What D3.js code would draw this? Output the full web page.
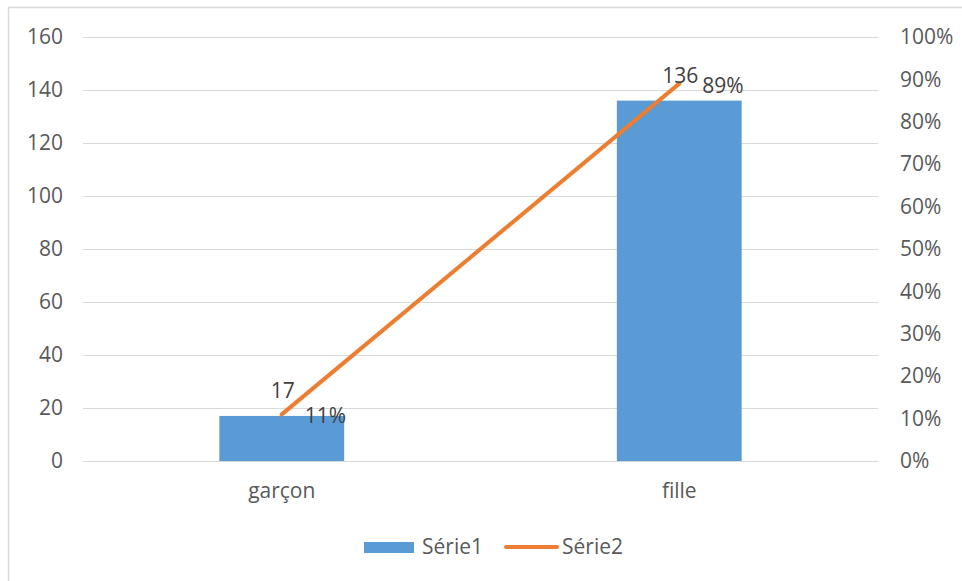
<!DOCTYPE html>
<html><head><meta charset="utf-8">
<script src="https://cdn.jsdelivr.net/npm/d3@7"></script>
<style>body{margin:0;background:#fff;} text{font-family:"Open Sans","Noto Sans",sans-serif;}</style>
</head><body><svg id="c" width="962" height="581"></svg>
<script>
const categories = ["garçon", "fille"];
const serie1 = [17, 136];
const serie2 = [0.11, 0.89];
const leftTicks = [0, 20, 40, 60, 80, 100, 120, 140, 160];
const rightTicks = [0, 0.1, 0.2, 0.3, 0.4, 0.5, 0.6, 0.7, 0.8, 0.9, 1.0];
const seriesNames = ["Série1", "Série2"];

const svg = d3.select("#c");
const W = 962, H = 581;
const m = {l: 83, r: 84, t: 37, b: 120};
const txt = "#595959", fs = 21;

svg.append("rect").attr("x", 8.5).attr("y", 7.5).attr("width", 970).attr("height", 590)
  .attr("fill", "#fff").attr("stroke", "#d9d9d9").attr("stroke-width", 1.5);

const x = d3.scaleBand().domain(categories).range([m.l, W - m.r]);
const y = d3.scaleLinear().domain([0, 160]).range([H - m.b, m.t]);
const y2 = d3.scaleLinear().domain([0, 1]).range([H - m.b, m.t]);

// gridlines
svg.append("g").selectAll("line").data(leftTicks).join("line")
  .attr("x1", m.l).attr("x2", W - m.r)
  .attr("y1", d => Math.round(y(d)) + 0.5).attr("y2", d => Math.round(y(d)) + 0.5)
  .attr("stroke", "#d9d9d9").attr("stroke-width", 1);

// left axis
const la = svg.append("g").attr("transform", `translate(${m.l},0)`)
  .call(d3.axisLeft(y).tickValues(leftTicks).tickSize(0).tickPadding(20));
la.select(".domain").remove();
la.selectAll("text").attr("fill", txt).style("font-size", fs + "px").attr("font-family", null);

// right axis
const ra = svg.append("g").attr("transform", `translate(${W - m.r},0)`)
  .call(d3.axisRight(y2).tickValues(rightTicks).tickSize(0).tickPadding(22).tickFormat(d3.format(".0%")));
ra.select(".domain").remove();
ra.selectAll("text").attr("fill", txt).style("font-size", fs + "px").attr("font-family", null);

// bars
const bw = x.bandwidth() * 0.314;
svg.append("g").selectAll("rect").data(categories).join("rect")
  .attr("x", d => x(d) + x.bandwidth() / 2 - bw / 2)
  .attr("width", bw)
  .attr("y", (d, i) => y(serie1[i]))
  .attr("height", (d, i) => y(0) - y(serie1[i]))
  .attr("fill", "#5b9bd5");

// category axis
const xa = svg.append("g").attr("transform", `translate(0,${H - m.b})`)
  .call(d3.axisBottom(x).tickSize(0).tickPadding(22));
xa.select(".domain").remove();
xa.selectAll("text").attr("fill", txt).style("font-size", fs + "px").attr("font-family", null);

// line
const cx = d => x(d) + x.bandwidth() / 2;
svg.append("path").datum(categories)
  .attr("d", d3.line().x(d => cx(d)).y((d, i) => y2(serie2[i])))
  .attr("fill", "none").attr("stroke", "#ed7d31").attr("stroke-width", 4).attr("stroke-linecap", "round");

// data labels (Série1 above bars, Série2 right of points)
svg.append("g").selectAll("text").data(categories).join("text")
  .attr("x", d => cx(d) + 1).attr("y", (d, i) => y(serie1[i]) - 18)
  .attr("text-anchor", "middle").attr("fill", "#404040").style("font-size", fs + "px")
  .text((d, i) => serie1[i]);
svg.append("g").selectAll("text").data(categories).join("text")
  .attr("x", d => cx(d) + 23).attr("y", (d, i) => y2(serie2[i]) + 9)
  .attr("text-anchor", "start").attr("fill", "#404040").style("font-size", fs + "px")
  .text((d, i) => d3.format(".0%")(serie2[i]));

// legend
const lg = svg.append("g").attr("transform", "translate(0,547)");
lg.append("rect").attr("x", 364).attr("y", -5).attr("width", 50).attr("height", 11).attr("fill", "#5b9bd5");
lg.append("text").attr("x", 422).attr("y", 7).attr("fill", txt).style("font-size", fs + "px").text(seriesNames[0]);
lg.append("line").attr("x1", 506).attr("x2", 557).attr("y1", 0).attr("y2", 0)
  .attr("stroke", "#ed7d31").attr("stroke-width", 4).attr("stroke-linecap", "round");
lg.append("text").attr("x", 562).attr("y", 7).attr("fill", txt).style("font-size", fs + "px").text(seriesNames[1]);
</script></body></html>
